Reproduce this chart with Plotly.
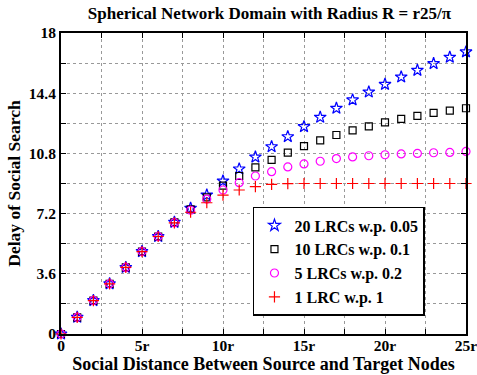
import plotly.graph_objects as go

x_vals = list(range(26))
lrc20 = [0, 1.0, 2.0, 3.0, 3.98, 4.93, 5.83, 6.68, 7.52, 8.31, 9.15, 9.87, 10.58,
         11.2, 11.8, 12.4, 12.96, 13.5, 14.0, 14.47, 14.93, 15.37, 15.77, 16.17, 16.55, 16.87]
lrc10 = [0, 1.0, 2.0, 3.0, 3.98, 4.93, 5.83, 6.67, 7.45, 8.17, 8.87, 9.45, 9.96,
         10.41, 10.85, 11.24, 11.58, 11.9, 12.18, 12.42, 12.66, 12.86, 13.04, 13.22, 13.36, 13.5]
lrc5 = [0, 1.0, 2.0, 3.0, 3.98, 4.93, 5.83, 6.66, 7.4, 8.07, 8.61, 9.05, 9.45,
        9.71, 9.99, 10.17, 10.33, 10.49, 10.59, 10.66, 10.72, 10.77, 10.8, 10.84, 10.86, 10.92]
lrc1 = [0, 1.0, 2.0, 3.0, 3.98, 4.93, 5.83, 6.65, 7.28, 7.85, 8.31, 8.61, 8.81,
        8.95, 8.99, 9.0, 9.0, 9.0, 9.0, 9.0, 9.0, 9.0, 9.0, 9.0, 9.0, 9.0]

x_tickvals = [0, 2.5, 5, 7.5, 10, 12.5, 15, 17.5, 20, 22.5, 25]
x_ticktext = ["0", "", "5r", "", "10r", "", "15r", "", "20r", "", "25r"]
y_tickvals = [0, 1.8, 3.6, 5.4, 7.2, 9.0, 10.8, 12.6, 14.4, 16.2, 18]
y_ticktext = ["0", "", "3.6", "", "7.2", "", "10.8", "", "14.4", "", "18"]

series = [
    ("20 LRCs w.p. 0.05", lrc20, "star-open", "blue", 9),
    ("10 LRCs w.p. 0.1", lrc10, "square-open", "black", 7),
    ("5 LRCs w.p. 0.2", lrc5, "circle-open", "magenta", 8),
    ("1 LRC w.p. 1", lrc1, "cross-thin-open", "red", 8),
]

fig = go.Figure()
for name, ys, sym, col, sz in series:
    fig.add_trace(go.Scatter(
        x=x_vals, y=ys, mode="markers", name=name,
        marker=dict(symbol=sym, color=col, size=sz, line=dict(color=col, width=1.2)),
        cliponaxis=False,
    ))

ff = "Liberation Serif"
fig.update_layout(
    width=477, height=375,
    margin=dict(l=61, r=11, t=33, b=41, autoexpand=False),
    paper_bgcolor="white", plot_bgcolor="white",
    font=dict(family=ff, color="black"),
    title=dict(text="<b>Spherical Network Domain with Radius R = r25/π</b>",
               x=0.565, xanchor="center", y=0.966, yanchor="middle",
               font=dict(size=17, family=ff)),
    showlegend=True,
    legend=dict(x=0.474, y=0.422, xanchor="left", yanchor="top",
                bordercolor="black", borderwidth=1.5, bgcolor="white",
                font=dict(size=16, family=ff, weight="bold"),
                tracegroupgap=0),
    xaxis=dict(range=[0, 25], tickmode="array", tickvals=x_tickvals, ticktext=x_ticktext,
               ticks="inside", ticklen=5, tickcolor="black", tickwidth=1,
               showline=True, linecolor="black", linewidth=2, mirror="ticks",
               showgrid=True, gridcolor="#999999", griddash="dot", gridwidth=1,
               zeroline=False, automargin=False, ticklabeloverflow="allow",
               ticklabelstandoff=-4,
               tickfont=dict(size=15.5, family=ff, weight="bold"),
               title=dict(text="<b>Social Distance Between Source and Target Nodes</b>",
                          font=dict(size=18, family=ff), standoff=0)),
    yaxis=dict(range=[0, 18], tickmode="array", tickvals=y_tickvals, ticktext=y_ticktext,
               ticks="inside", ticklen=5, tickcolor="black", tickwidth=1,
               showline=True, linecolor="black", linewidth=2, mirror="ticks",
               showgrid=True, gridcolor="#999999", griddash="dot", gridwidth=1,
               zeroline=False, automargin=False, ticklabeloverflow="allow",
               tickfont=dict(size=15.5, family=ff, weight="bold"),
               title=dict(text="<b>Delay of Social Search</b>",
                          font=dict(size=17.5, family=ff), standoff=4)),
)

fig.write_html("out.html")
